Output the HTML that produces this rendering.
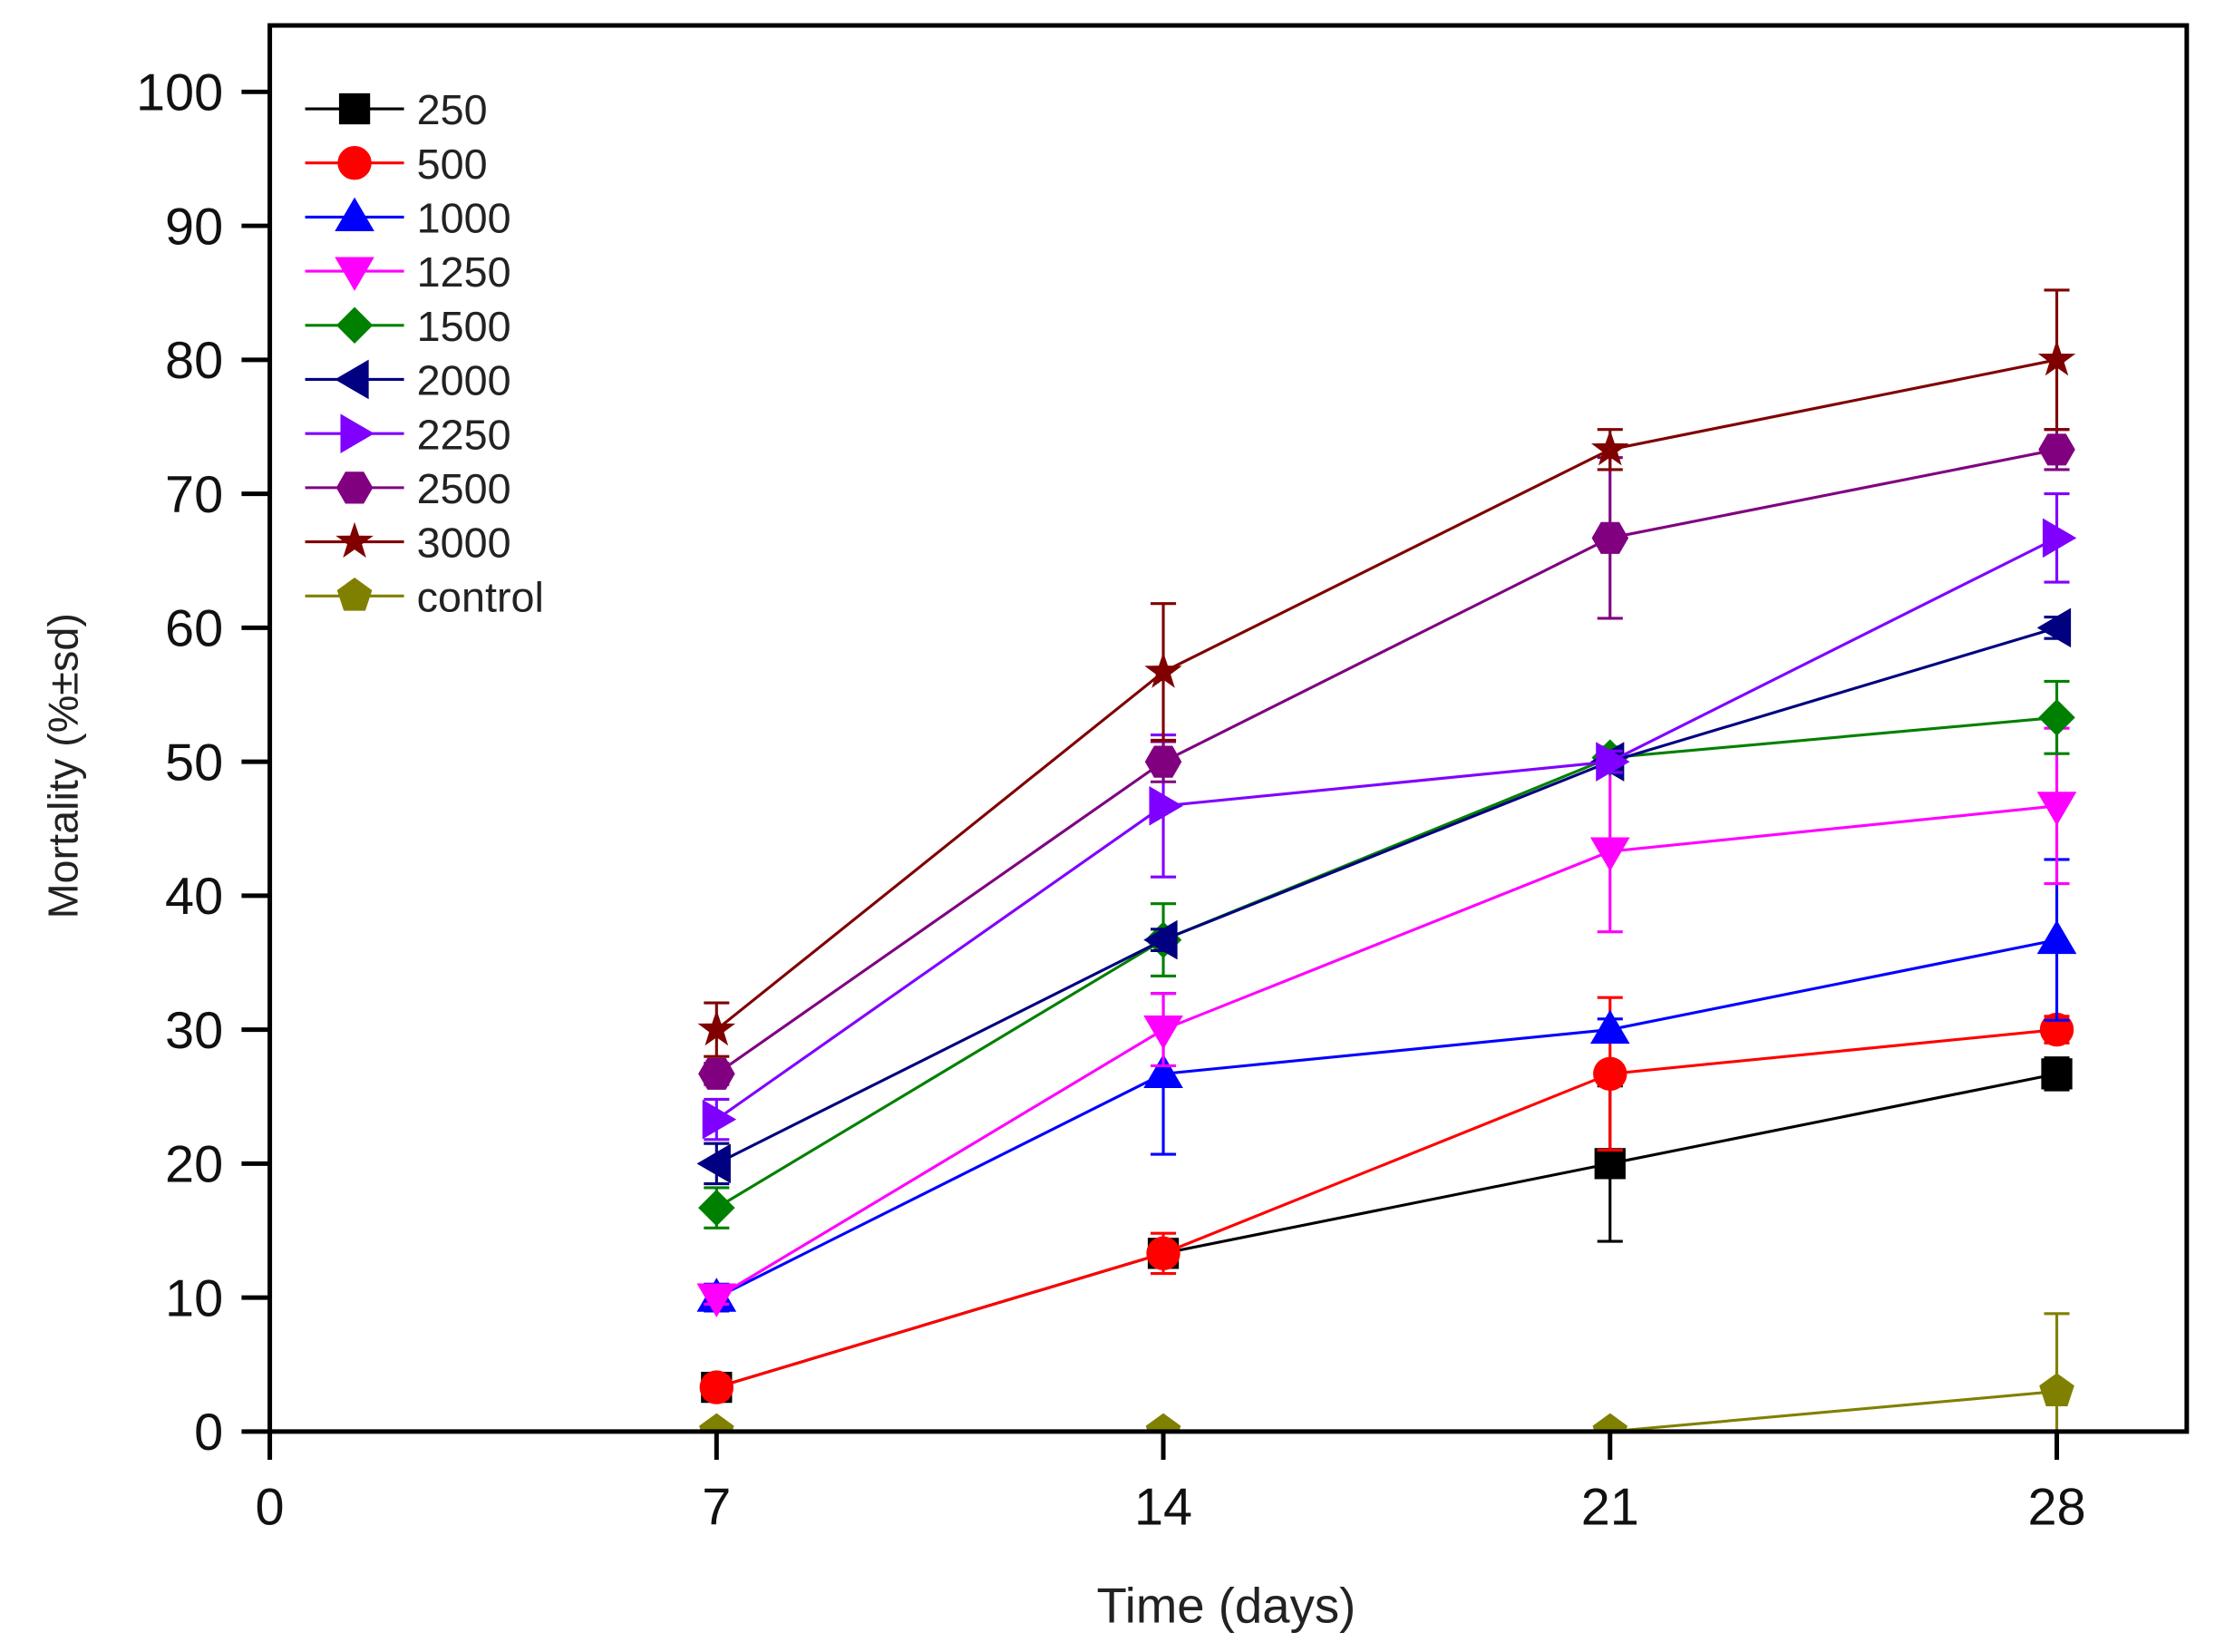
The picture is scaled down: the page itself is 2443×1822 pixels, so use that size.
<!DOCTYPE html>
<html><head><meta charset="utf-8">
<style>
html,body{margin:0;padding:0;background:#fff;}
svg{display:block;}
text{font-family:"Liberation Sans",Arial,sans-serif;}
</style></head>
<body>
<svg id="chart" width="2443" height="1822" viewBox="0 0 1568 1169" preserveAspectRatio="none" xmlns="http://www.w3.org/2000/svg">
<defs><clipPath id="pc"><rect x="191" y="18" width="1357" height="995"/></clipPath></defs>
<rect x="0" y="0" width="1568" height="1169" fill="#fff"/>
<g id="plot" clip-path="url(#pc)"></g>
<rect x="191" y="18" width="1357" height="995" fill="none" stroke="#000" stroke-width="3.2"/>
<g id="axes"></g>
<g id="legend"></g>
<text x="868" y="1148" font-size="35" text-anchor="middle" fill="#222">Time (days)</text>
<text x="0" y="0" font-size="30" text-anchor="middle" fill="#222" transform="translate(55,542) rotate(-90)">Mortality (%±sd)</text>
</svg>
<script>
const days = [7, 14, 21, 28];
const seriesNames = ["250","500","1000","1250","1500","2000","2250","2500","3000","control"];
const s250 = [3.3, 13.3, 20, 26.7];
const s500 = [3.3, 13.3, 26.7, 30];
const s1000 = [10, 26.7, 30, 36.7];
const s1250 = [10, 30, 43.3, 46.7];
const s1500 = [16.7, 36.7, 50.3, 53.3];
const s2000 = [20, 36.7, 50, 60];
const s2250 = [23.3, 46.7, 50, 66.7];
const s2500 = [26.7, 50, 66.7, 73.3];
const s3000 = [30, 56.7, 73.3, 80];
const sControl = [0, 0, 0, 3];
const e250 = [0.5, 0.8, 5.8, 1.2];
const e500 = [0.8, 1.5, 5.7, 1];
const e1000 = [1, 6, 0.8, 6];
const e1250 = [0.5, 2.7, 6, 5.8];
const e1500 = [1.5, 2.7, 0.8, 2.7];
const e2000 = [1.5, 0.8, 0.8, 0.8];
const e2250 = [1.5, 5.3, 0.8, 3.3];
const e2500 = [0.8, 1.5, 6, 1.5];
const e3000 = [2, 5.1, 1.5, 5.2];
const eControl = [0, 0, 0, 5.8];
const yTicks = [0,10,20,30,40,50,60,70,80,90,100];
const xTicks = [0,7,14,21,28];

const allVals = [s250,s500,s1000,s1250,s1500,s2000,s2250,s2500,s3000,sControl];
const allErr = [e250,e500,e1000,e1250,e1500,e2000,e2250,e2500,e3000,eControl];
const colors = ["#000000","#ff0000","#0000ff","#ff00ff","#008000","#000080","#8000ff","#800080","#800000","#808000"];
const shapes = ["square","circle","up","down","diamond","left","right","hex","star","pent"];

const NS="http://www.w3.org/2000/svg";
function xS(d){return 191 + d*(1456-191)/28;}
function yS(v){return 1013 - v*(1013-65)/100;}
function mk(tag, attrs, parent){const e=document.createElementNS(NS,tag);for(const k in attrs)e.setAttribute(k,attrs[k]);parent.appendChild(e);return e;}
function poly(cx,cy,n,r,rot){let p=[];for(let i=0;i<n;i++){const a=rot+i*2*Math.PI/n;p.push((cx+r*Math.cos(a)).toFixed(1)+","+(cy+r*Math.sin(a)).toFixed(1));}return p.join(" ");}
function marker(shape,cx,cy,color,parent){
  let e;
  if(shape==="square") e=mk("rect",{x:cx-11,y:cy-11,width:22,height:22,fill:color},parent);
  else if(shape==="circle") e=mk("circle",{cx:cx,cy:cy,r:12,fill:color},parent);
  else if(shape==="up") e=mk("polygon",{points:`${cx},${cy-14} ${cx+14},${cy+10} ${cx-14},${cy+10}`,fill:color},parent);
  else if(shape==="down") e=mk("polygon",{points:`${cx},${cy+14} ${cx+14},${cy-10} ${cx-14},${cy-10}`,fill:color},parent);
  else if(shape==="diamond") e=mk("polygon",{points:`${cx},${cy-13} ${cx+13},${cy} ${cx},${cy+13} ${cx-13},${cy}`,fill:color},parent);
  else if(shape==="left") e=mk("polygon",{points:`${cx-14},${cy} ${cx+10},${cy-14} ${cx+10},${cy+14}`,fill:color},parent);
  else if(shape==="right") e=mk("polygon",{points:`${cx+14},${cy} ${cx-10},${cy-14} ${cx-10},${cy+14}`,fill:color},parent);
  else if(shape==="hex") e=mk("polygon",{points:poly(cx,cy,6,13,0),fill:color},parent);
  else if(shape==="star"){let p=[];for(let i=0;i<10;i++){const a=-Math.PI/2+i*Math.PI/5;const rr=i%2?5.5:14;p.push((cx+rr*Math.cos(a)).toFixed(1)+","+(cy+rr*Math.sin(a)).toFixed(1));}e=mk("polygon",{points:p.join(" "),fill:color},parent);}
  else e=mk("polygon",{points:poly(cx,cy,5,13,-Math.PI/2),fill:color},parent);
  return e;
}

const axes=document.getElementById("axes");
yTicks.forEach(v=>{
  const t=mk("line",{x1:171,x2:191,y1:yS(v),y2:yS(v),stroke:"#000","stroke-width":3.2},axes);
  
  
  const l=mk("text",{x:158,y:yS(v)+13,"font-size":37,"text-anchor":"end",fill:"#111"},axes);
  l.textContent=v;
  
  
});
xTicks.forEach(d=>{
  const t=mk("line",{x1:xS(d),x2:xS(d),y1:1013,y2:1033,stroke:"#000","stroke-width":3.2},axes);
  
  
  const l=mk("text",{x:xS(d),y:1079,"font-size":37,"text-anchor":"middle",fill:"#111"},axes);
  l.textContent=d;
  
  
});

const plot=document.getElementById("plot");
allVals.forEach((vals,si)=>{
  const g=mk("g",{},plot);
  
  
  const c=colors[si];
  const pts=vals.map((v,i)=>xS(days[i])+","+yS(v)).join(" ");
  const ln=mk("polyline",{points:pts,fill:"none",stroke:c,"stroke-width":2},g);
  
  
  vals.forEach((v,i)=>{
    const e=allErr[si][i];
    if(e>0){
      const x=xS(days[i]),y1=yS(v+e),y2=yS(v-e);
      const eb=mk("path",{d:`M${x},${y1}V${y2}M${x-9},${y1}H${x+9}M${x-9},${y2}H${x+9}`,stroke:c,"stroke-width":2,fill:"none"},g);
      
      
    }
  });
  vals.forEach((v,i)=>{
    const m=marker(shapes[si],xS(days[i]),yS(v),c,g);
    
    
  });
});

const legend=document.getElementById("legend");
seriesNames.forEach((n,si)=>{
  const y=77+si*38.3;
  const g=mk("g",{},legend);
  
  
  mk("line",{x1:216,x2:286,y1:y,y2:y,stroke:colors[si],"stroke-width":2},g);
  marker(shapes[si],251,y,colors[si],g);
  const t=mk("text",{x:295,y:y+11,"font-size":30,fill:"#222"},g);
  t.textContent=n;
});
</script>
</body></html>
